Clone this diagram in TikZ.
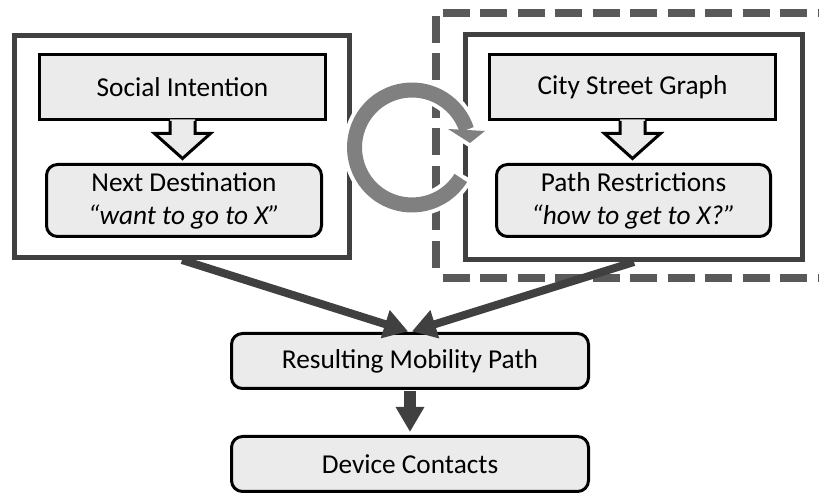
\documentclass[tikz,border=0pt]{standalone}
\usepackage{fontspec}
\setmainfont{Carlito}
\usetikzlibrary{arrows.meta,calc}

\definecolor{boxfill}{RGB}{235,235,235}
\definecolor{framegray}{RGB}{64,64,64}
\definecolor{dashgray}{RGB}{89,89,89}
\definecolor{cyclegray}{RGB}{128,128,128}

% hollow block arrow hanging below a box (#1 = node name)
\newcommand\blockdown[1]{%
  \path[fill=boxfill] ([shift={(-12.5pt,1.5pt)}]#1.south) -- ++(0,-14) -- ++(-15.5,0)
    -- ++(28,-25) -- ++(28,25) -- ++(-15.5,0) -- ++(0,14) -- cycle;
  \draw[line width=3pt] ([xshift=-12.5pt]#1.south) -- ++(0,-12.5) -- ++(-15.5,0)
    -- ++(28,-25) -- ++(28,25) -- ++(-15.5,0) -- ++(0,12.5);
}

\begin{document}
\begin{tikzpicture}[x=1pt,y=1pt,
  txt/.style={font=\fontsize{27.3}{33}\selectfont, align=center, inner sep=0pt},
  plainbox/.style={txt, draw=black, line width=3pt, fill=boxfill},
  roundbox/.style={plainbox, rounded corners=11pt},
  frame/.style={draw=framegray, line width=5pt, inner sep=0pt},
  groupdash/.style={draw=dashgray, line width=8pt, dash pattern=on 27pt off 10.5pt},
  flow/.style={draw=framegray, line width=8pt, -{Triangle[length=24pt,width=28pt]}},
]
\useasboundingbox (0,0) rectangle (819,494);

% dashed grouping frame, open to the right edge
\begin{scope}
  \clip (0,0) rectangle (819,494);
  \coordinate (gtl) at (436,480.5);
  \coordinate (gbl) at (436,216);
  \draw[groupdash, dash phase=31pt] (gtl) -- (850,480.5);
  \draw[groupdash, dash phase=35pt] (gtl) -- (gbl);
  \draw[groupdash, dash phase=31pt] (gbl) -- (850,216);
\end{scope}

% outer frames
\node[frame, minimum width=335pt, minimum height=222pt] (L) at (182,347.5) {};
\node[frame, minimum width=337pt, minimum height=225pt] (R) at (634,347) {};

% cycle arrow between the two frames, with a white halo
\coordinate (cyc) at (412,346.5);
\draw[white, line width=23pt] ([shift={(-28:57.5pt)}]cyc)
  arc[start angle=-28, end angle=-342, radius=57.5pt];
\filldraw[white, line width=8pt, line join=round]
  ($(cyc)+(36,18.5)$) -- ($(cyc)+(73,16.5)$) -- ($(cyc)+(58,4.5)$) -- cycle;
\draw[cyclegray, line width=15pt] ([shift={(-32:57.5pt)}]cyc)
  arc[start angle=-32, end angle=-342, radius=57.5pt];
\fill[cyclegray]
  ($(cyc)+(36,18.5)$) -- ($(cyc)+(73,16.5)$) -- ($(cyc)+(58,4.5)$) -- cycle;

% left column
\node[plainbox, minimum width=286pt, minimum height=65pt] (SI) at (182.5,407) {Social Intention};
\blockdown{SI}
\node[roundbox, minimum width=275pt, minimum height=72pt] (ND) at (184,293.5)
  {Next Destination\\\textit{“want to go to X”}};

% right column
\node[plainbox, minimum width=286pt, minimum height=65pt] (CSG) at (632.5,407) {City Street Graph};
\blockdown{CSG}
\node[roundbox, minimum width=274pt, minimum height=72pt] (PR) at (633.5,293.5)
  {Path Restrictions\\\textit{“how to get to X?”}};

% results
\node[roundbox, minimum width=357pt, minimum height=55pt] (RMP) at (410,133) {Resulting Mobility Path};
\node[roundbox, minimum width=357pt, minimum height=55pt] (DC) at (410,30) {Device Contacts};

% connectors
\draw[flow, shorten >=2pt] (L.south) -- (RMP.north);
\draw[flow, shorten >=2pt] (R.south) -- (RMP.north);
\draw[framegray, line width=12pt, -{Triangle[length=25pt,width=27pt]},
  shorten <=1.5pt, shorten >=3pt] (RMP.south) -- (DC.north);
\end{tikzpicture}
\end{document}
